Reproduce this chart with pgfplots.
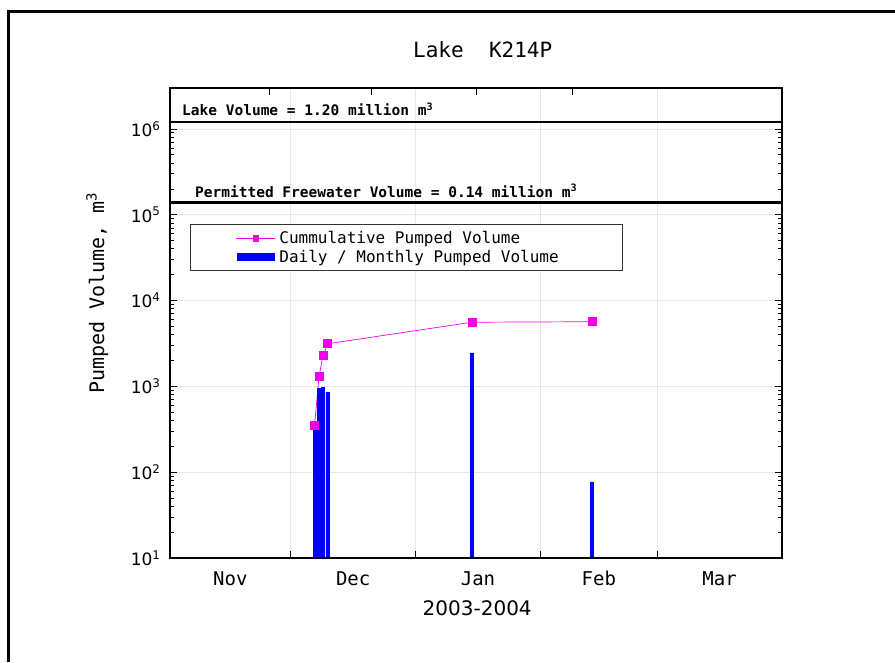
\documentclass[border=0pt]{standalone}
\usepackage{fontspec}
\setmainfont{DejaVu Sans}
\newfontfamily\mono{DejaVu Sans Mono}
\usepackage{pgfplots}
\pgfplotsset{compat=1.18}
\definecolor{pm}{RGB}{240,0,230}
\begin{document}
\begin{tikzpicture}
\useasboundingbox (0,0) rectangle (895pt,662pt);
\draw[line width=3pt] (8pt,0) -- (8pt,650pt) -- (895pt,650pt);
\begin{axis}[
  scale only axis, width=612pt, height=470pt,
  at={(170pt,104pt)}, anchor=south west,
  xmin=0, xmax=152, ymode=log, ymin=10, ymax=3e6,
  xtick={0,30,61,92,121,152}, xticklabels={},
  xtick pos=left,
  extra x ticks={15,45.5,76.5,106.5,136.5},
  extra x tick labels={Nov,Dec,Jan,Feb,Mar},
  extra x tick style={major tick length=0pt, grid=none},
  xticklabel style={font=\mono\fontsize{19}{19}\selectfont, yshift=-10pt},
  ytick={10,100,1000,10000,100000,1000000},
  yticklabels={10\textsuperscript{1},10\textsuperscript{2},10\textsuperscript{3},10\textsuperscript{4},10\textsuperscript{5},10\textsuperscript{6}},
  yticklabel style={font=\fontsize{17}{17}\selectfont, xshift=-6pt},
  major tick length=7pt, minor tick length=4pt,
  tick style={black, line width=0.8pt},
  axis line style={line width=1.2pt},
  xmajorgrids, ymajorgrids,
  major grid style={gray!18, line width=0.6pt},
  title={Lake~ K214P},
  title style={at={(0.511,1.068)}, anchor=center, font=\mono\fontsize{21}{21}\selectfont},
  xlabel={2003-2004},
  xlabel style={at={(0.502,-0.106)}, anchor=center, font=\fontsize{20}{20}\selectfont},
  ylabel={Pumped Volume, m\textsuperscript{3}},
  ylabel style={at={(-0.119,0.564)}, anchor=center, rotate=0, font=\mono\fontsize{20}{20}\selectfont},
  legend style={at={(0.0327,0.711)}, anchor=north west, draw=black!80, line width=0.8pt,
    font=\mono\fontsize{16}{16}\selectfont, row sep=1pt, inner ysep=5pt, inner xsep=3pt},
  legend cell align=left,
]
\addplot[pm, line width=0.7pt, mark=square*, mark size=4pt, mark options={solid},
  legend image code/.code={
    \path[draw=none, fill=none] (-43pt,-4pt) rectangle (41pt,4pt);
    \draw[pm, line width=0.7pt] (0pt,0pt) -- (39pt,0pt);
    \fill[pm] (16.7pt,-2.8pt) rectangle (22.3pt,2.8pt);
  }]
  coordinates {(35.9,350) (37,1300) (38,2280) (39.2,3140) (75,5590) (104.8,5667)};
\addlegendentry{\makebox[338pt][l]{Cummulative Pumped Volume}}
\addplot[ybar, bar width=0.72, fill=blue, draw=blue, line width=0.2pt,
  legend image code/.code={
    \path[draw=none, fill=none] (-43pt,-4pt) rectangle (41pt,4pt);
    \fill[blue] (1pt,-3.5pt) rectangle (38pt,3.5pt);
  }]
  coordinates {(35.9,350) (37,950) (38,980) (39.1,860) (75,2450) (104.8,77)};
\addlegendentry{\makebox[338pt][l]{Daily / Monthly Pumped Volume}}
\addplot[black, line width=2.6pt, forget plot] coordinates {(0,1.2e6) (152,1.2e6)};
\addplot[black, line width=2.6pt, forget plot] coordinates {(0,1.4e5) (152,1.4e5)};
\node[anchor=west, font=\mono\bfseries\fontsize{14.5}{14.5}\selectfont, inner sep=0pt]
  at (rel axis cs:0.0196,0.955) {Lake Volume = 1.20 million m\textsuperscript{3}};
\node[anchor=west, font=\mono\bfseries\fontsize{14.5}{14.5}\selectfont, inner sep=0pt]
  at (rel axis cs:0.0408,0.781) {Permitted Freewater Volume = 0.14 million m\textsuperscript{3}};
\end{axis}
\begin{axis}[
  scale only axis, width=612pt, height=470pt,
  at={(170pt,104pt)}, anchor=south west,
  xmin=0, xmax=152, ymin=0, ymax=1,
  axis line style={line width=1.2pt},
  xtick pos=right, ytick=\empty,
  xtick={24.8,50.1,76.2,100}, xticklabels={},
  major tick length=7pt,
  tick style={black, line width=0.8pt},
]
\end{axis}
\end{tikzpicture}
\end{document}
